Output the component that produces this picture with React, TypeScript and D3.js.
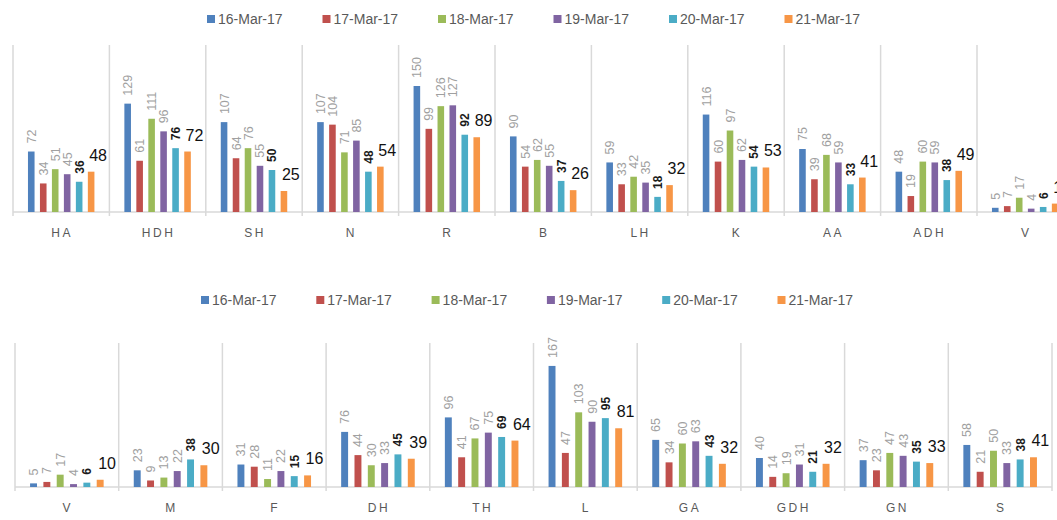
import React from "react";
import * as d3 from "d3";

// legend / series
const dates = ["16-Mar-17", "17-Mar-17", "18-Mar-17", "19-Mar-17", "20-Mar-17", "21-Mar-17"];
const colors = ["#4F81BD", "#C0504D", "#9BBB59", "#8064A2", "#4BACC6", "#F79646"];

// upper chart
const topCats = ["HA", "HDH", "SH", "N", "R", "B", "LH", "K", "AA", "ADH", "V"];
const top16 = [72, 129, 107, 107, 150, 90, 59, 116, 75, 48, 5];
const top17 = [34, 61, 64, 104, 99, 54, 33, 60, 39, 19, 7];
const top18 = [51, 111, 76, 71, 126, 62, 42, 97, 68, 60, 17];
const top19 = [45, 96, 55, 85, 127, 55, 35, 62, 59, 59, 4];
const top20 = [36, 76, 50, 48, 92, 37, 18, 54, 33, 38, 6];
const top21 = [48, 72, 25, 54, 89, 26, 32, 53, 41, 49, 10];

// lower chart
const botCats = ["V", "M", "F", "DH", "TH", "L", "GA", "GDH", "GN", "S"];
const bot16 = [5, 23, 31, 76, 96, 167, 65, 40, 37, 58];
const bot17 = [7, 9, 28, 44, 41, 47, 34, 14, 23, 21];
const bot18 = [17, 13, 11, 30, 67, 103, 60, 19, 47, 50];
const bot19 = [4, 22, 22, 33, 75, 90, 63, 31, 43, 33];
const bot20 = [6, 38, 15, 45, 69, 95, 43, 21, 35, 38];
const bot21 = [10, 30, 16, 39, 64, 81, 32, 32, 33, 41];

const W = 1057;
const H = 520;
const font = "'Liberation Sans', Arial, sans-serif";

interface PanelProps {
  cats: string[];
  series: number[][];
  x0: number;
  catW: number;
  baseY: number;
  topY: number;
  legendX: number;
  legendStep: number;
  legendY: number;
  padOuter: number;
  padInner: number;
}

const Panel = ({ cats, series, x0, catW, baseY, topY, legendX, legendStep, legendY, padOuter, padInner }: PanelProps) => {
  const x = d3.scaleBand<string>().domain(cats).range([x0, x0 + catW * cats.length]).padding(0);
  const inner = d3
    .scaleBand<number>()
    .domain(d3.range(dates.length))
    .range([0, catW])
    .paddingInner(padInner)
    .paddingOuter(padOuter);
  const y = d3.scaleLinear().domain([0, 200]).range([baseY, topY]);
  const bw = inner.bandwidth();

  return (
    <g>
      {/* legend */}
      {dates.map((d, i) => (
        <g key={d} transform={`translate(${legendX + i * legendStep},${legendY})`}>
          <rect x={0} y={-4} width={8} height={8} fill={colors[i]} />
          <text x={11} y={5} fontSize={14} fill="#595959" fontFamily={font}>
            {d}
          </text>
        </g>
      ))}
      {/* separators */}
      {d3.range(cats.length + 1).map((k) => (
        <line
          key={k}
          x1={x0 + k * catW}
          x2={x0 + k * catW}
          y1={topY + 1}
          y2={baseY + 4}
          stroke="#d9d9d9"
          strokeWidth={1.5}
        />
      ))}
      <line x1={x0} x2={x0 + catW * cats.length} y1={baseY} y2={baseY} stroke="#d9d9d9" strokeWidth={1.5} />
      {cats.map((c, ci) => (
        <g key={c} transform={`translate(${x(c)},0)`}>
          {series.map((s, si) => {
            const v = s[ci];
            const bx = inner(si)!;
            const cx = bx + bw / 2;
            const ty = y(v);
            return (
              <g key={si}>
                <rect x={bx} y={ty} width={bw} height={baseY - ty} fill={colors[si]} />
                {si < 5 ? (
                  <text
                    transform={`translate(${cx + 0.5},${ty - 8}) rotate(-90)`}
                    dominantBaseline="central"
                    fontSize={si === 4 ? 12 : 12.5}
                    fontWeight={si === 4 ? "bold" : "normal"}
                    fill={si === 4 ? "#1a1a1a" : "#a0a0a0"}
                    fontFamily={font}
                  >
                    {v}
                  </text>
                ) : (
                  <text x={cx - 2} y={ty - 11} fontSize={16} fill="#111" fontFamily={font}>
                    {v}
                  </text>
                )}
              </g>
            );
          })}
          <text
            x={catW / 2 + 1}
            y={baseY + 25}
            textAnchor="middle"
            fontSize={12}
            letterSpacing={2.5}
            fill="#595959"
            fontFamily={font}
          >
            {c}
          </text>
        </g>
      ))}
    </g>
  );
};

export default function App() {
  return (
    <div style={{ position: "absolute", left: 0, top: 0, width: W, height: H, overflow: "hidden", background: "#fff" }}>
      <svg width={W} height={H} style={{ display: "block" }}>
        <Panel
          cats={topCats}
          series={[top16, top17, top18, top19, top20, top21]}
          x0={13}
          catW={96.4}
          baseY={212}
          topY={44}
          legendX={207}
          legendStep={115.5}
          legendY={19}
          padOuter={1.25}
          padInner={0.45}
        />
        <Panel
          cats={botCats}
          series={[bot16, bot17, bot18, bot19, bot20, bot21]}
          x0={15}
          catW={103.7}
          baseY={487}
          topY={342}
          legendX={201}
          legendStep={115.3}
          legendY={300}
          padOuter={1.13}
          padInner={0.48}
        />
      </svg>
    </div>
  );
}
